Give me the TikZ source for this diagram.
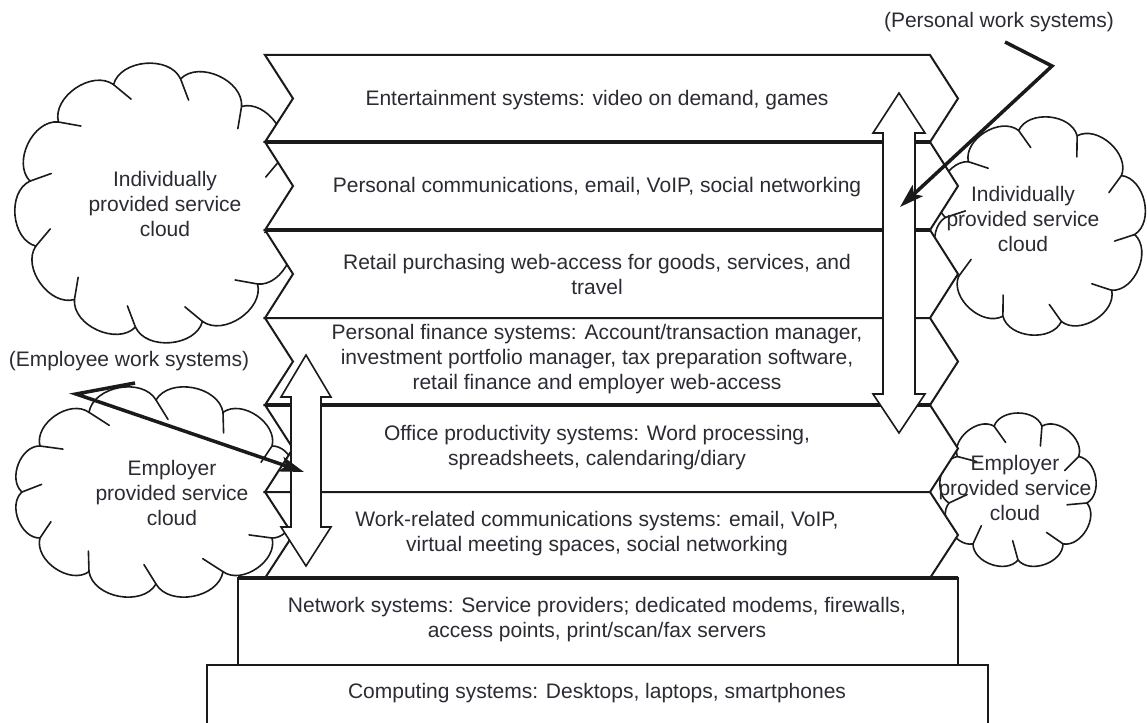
\documentclass[tikz,border=0pt]{standalone}
\usepackage{fontspec}
\setmainfont{Liberation Sans}
\usetikzlibrary{arrows.meta}
\definecolor{linec}{HTML}{1A1A1A}
\definecolor{textc}{HTML}{2B2B33}
\newcommand\drawcloud[6]{%
  \path[fill=white, draw=linec, line width=1.6pt, line join=round]
    ({#1+#3*cos(#6)},{#2+#4*sin(#6)})
    \foreach \k in {1,...,#5} { to[bend left=70] ({#1+#3*cos(#6+\k*360/#5)},{#2+#4*sin(#6+\k*360/#5)}) } -- cycle;
  \foreach \k in {1,...,#5} {
    \draw[linec, line width=1.6pt, line cap=round]
      ({#1+#3*cos(#6+\k*360/#5)},{#2+#4*sin(#6+\k*360/#5)}) --
      ({#1+(#3-19)*cos(#6+\k*360/#5+6)},{#2+(#4-19)*sin(#6+\k*360/#5+6)});
  }%
}
\newcommand\stackrow[2]{%
  \path[rowbox] (265,#1) -- (930,#1) -- (958,{(#1+#2)/2}) -- (930,#2) -- (265,#2) -- (293,{(#1+#2)/2}) -- cycle;%
}
\begin{document}
\begin{tikzpicture}[x=1pt,y=-1pt,
  txt/.style={font=\fontsize{21}{25}\selectfont, text=textc, align=center, inner sep=0pt},
  rowbox/.style={draw=linec, line width=2pt, fill=white, line join=miter},
  sepline/.style={draw=linec, line width=4pt},
  boxline/.style={draw=linec, line width=2.4pt},
  dblarrow/.style={draw=linec, line width=1.6pt, fill=white, line join=miter},
  pointer/.style={draw=linec, line width=3.5pt, line join=miter, -{Stealth[length=24pt,width=15pt,inset=5pt]}},
]
\useasboundingbox (0,0) rectangle (1147,722);

% clouds
\drawcloud{158}{203}{130}{126}{12}{10}
\drawcloud{156}{492}{134}{92}{12}{0}
\drawcloud{1040}{226}{95}{98}{10}{5}
\drawcloud{1018}{491}{70}{69}{9}{10}

% chevron stack
\stackrow{55}{142}
\stackrow{142}{230}
\stackrow{230}{318}
\stackrow{318}{405}
\stackrow{405}{492}
\stackrow{492}{578}
\draw[sepline] (265,142) -- (930,142);
\draw[sepline] (265,230) -- (930,230);
\draw[sepline] (265,405) -- (930,405);

% bottom boxes
\path[boxline, fill=white] (238,578) rectangle (958,665);
\draw[boxline] (207,730) -- (207,665) -- (988,665) -- (988,730);
\draw[sepline] (238,578) -- (958,578);

% double arrows
\path[dblarrow] (899,93) -- (925,133) -- (915,133) -- (915,394) -- (925,394) -- (899,433)
  -- (873,394) -- (883,394) -- (883,133) -- (873,133) -- cycle;
\path[dblarrow] (306,355) -- (331,397) -- (321,397) -- (321,527) -- (331,527) -- (306,566)
  -- (281,527) -- (291,527) -- (291,397) -- (281,397) -- cycle;

% texts
\node[txt] (ent) at (597,100) {Entertainment systems: video on demand, games};
\node[txt] (pcom) at (597,187) {Personal communications, email, VoIP, social networking};
\node[txt] (retail) at (597,274) {Retail purchasing web-access for goods, services, and\\travel};
\node[txt] (fin) at (597,359) {Personal finance systems: Account/transaction manager,\\investment portfolio manager, tax preparation software,\\retail finance and employer web-access};
\node[txt] (office) at (597,448) {Office productivity systems: Word processing,\\spreadsheets, calendaring/diary};
\node[txt] (work) at (597,534) {Work-related communications systems: email, VoIP,\\virtual meeting spaces, social networking};
\node[txt] (net) at (597,620) {Network systems: Service providers; dedicated modems, firewalls,\\access points, print/scan/fax servers};
\node[txt] (comp) at (597,693) {Computing systems: Desktops, laptops, smartphones};

\node[txt] (cloudA) at (165,204) {Individually\\provided service\\cloud};
\node[txt] (cloudB) at (172,493) {Employer\\provided service\\cloud};
\node[txt] (cloudC) at (1023,219) {Individually\\provided service\\cloud};
\node[txt] (cloudD) at (1015,488) {Employer\\provided service\\cloud};

\node[txt] (pws) at (999,22) {(Personal work systems)};
\node[txt] (ews) at (129,361) {(Employee work systems)};

% pointers
\coordinate (pwA) at (1005,42);
\coordinate (pwB) at (1052,66);
\coordinate (pwT) at (900,207);
\draw[pointer] (pwA) -- (pwB) -- (pwT);
\coordinate (ewA) at (135,383);
\coordinate (ewB) at (76,394);
\coordinate (ewT) at (304,472);
\draw[pointer] (ewA) -- (ewB) -- (ewT);
\end{tikzpicture}
\end{document}
